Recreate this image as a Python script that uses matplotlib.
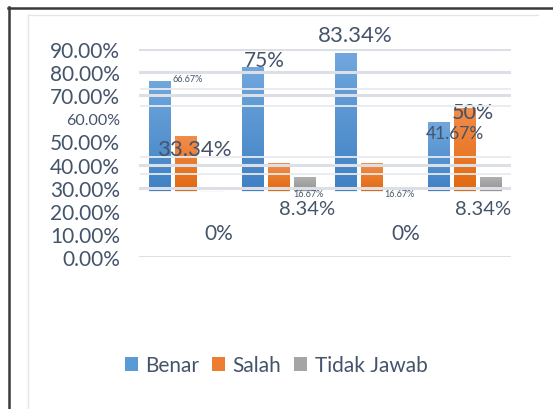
import numpy as np
import matplotlib
matplotlib.use('Agg')
import matplotlib.pyplot as plt
from matplotlib.lines import Line2D
from matplotlib.patches import Patch
from matplotlib.colors import LinearSegmentedColormap

plt.rcParams['font.family'] = ['Lato', 'DejaVu Sans']

# data
groups = ['1', '2', '3', '4']
series = ['Benar', 'Salah', 'Tidak Jawab']
benar = [66.67, 75, 83.34, 41.67]
salah = [33.34, 16.67, 16.67, 50]
tidak = [0, 8.34, 0, 8.34]
tick_values = [0, 10, 20, 30, 40, 50, 60, 70, 80, 90]
grid_values = [0, 30, 40, 70, 80, 90]
faint_values = [36, 43.3, 65.3, 72.6]

# styling / layout
text_col = '#44546A'
grid_col = '#DCE0E6'
faint_col = '#E8EBEF'
colors = [('#71A7DD', '#3F81C4'), ('#F28D4B', '#E2680F'), ('#B0B0B0', '#939393')]
solid = ['#5B9BD5', '#ED7D31', '#A5A5A5']
width = 0.226
step = 0.28
# label offsets (pixels from bar top centre) and font sizes, per series per group
label_offsets = [
    [(28.5, -1.3), (12, 3.9), (9.5, 15.1), (16.2, -14)],
    [(9.2, -16.2), (29.8, -33.3), (28, -33.3), (8.2, -6.7)],
    [(6.8, -45), (2.5, -34.8), (8.5, -45), (-7.8, -34.8)],
]
label_sizes = [
    [6.5, 15, 16, 12.5],
    [16, 6.5, 6.5, 15.5],
    [15, 14.5, 15, 14.5],
]

fig = plt.figure(figsize=(5.53, 4.10), dpi=100)
pos = [139 / 553, 1 - 258 / 410, 372 / 553, 208 / 410]

# axis carrying the tick labels and main gridlines
ax_lab = fig.add_axes(pos)
ax_lab.set_xlim(-0.5, 3.5)
ax_lab.set_ylim(0, 90)
ax_lab.set_yticks(tick_values)
ax_lab.set_yticklabels(['%.2f%%' % v for v in tick_values])
ax_lab.tick_params(axis='y', length=0, pad=13.5, labelsize=15, labelcolor=text_col)
for lbl, v in zip(ax_lab.get_yticklabels(), tick_values):
    if v == 60:
        lbl.set_fontsize(11.5)
ax_lab.set_xticks([])
for s in ax_lab.spines.values():
    s.set_visible(False)
ax_lab.patch.set_visible(False)

# bar axis (own scale: 0 sits on the 30% line)
ax = fig.add_axes(pos, sharex=None)
ax.set_xlim(-0.5, 3.5)
ax.set_ylim(-41.7, 84.0)
ax.axis('off')
ax.patch.set_visible(False)

# faint lines behind bars
for v in faint_values:
    ax_lab.axhline(v, xmin=0.005, color=faint_col, lw=1.3, zorder=0)

x = np.arange(len(groups))
containers = []
for i, vals in enumerate([benar, salah, tidak]):
    bc = ax.bar(x + (i - 1) * step, vals, width, bottom=-1.8, color=solid[i],
                edgecolor='#F4F6F9', linewidth=0.6, zorder=2)
    cmap = LinearSegmentedColormap.from_list('g%d' % i, [colors[i][1], colors[i][0]])
    for p in bc.patches:
        if p.get_height() <= 0:
            continue
        x0, y0 = p.get_x(), p.get_y()
        im = ax.imshow(np.linspace(0, 1, 64).reshape(-1, 1), cmap=cmap, origin='lower',
                       extent=[x0, x0 + p.get_width(), y0, y0 + p.get_height()],
                       aspect='auto', zorder=2.5)
        im.set_clip_path(p)
    containers.append(bc)
    for j, v in enumerate(vals):
        dx, dy = label_offsets[i][j]
        ax.annotate('%g%%' % v, xy=(x[j] + (i - 1) * step, v), xytext=(dx, dy),
                    textcoords='offset pixels', ha='center', va='center',
                    fontsize=label_sizes[i][j], color=text_col, zorder=5)

ax.set_xlim(-0.5, 3.5)
ax.set_ylim(-41.7, 84.0)

# main gridlines drawn over the bars
for v in grid_values:
    ax_lab.axhline(v, color=grid_col, lw=2.2, zorder=4)
ax_lab.set_zorder(ax.get_zorder() + 1)

# legend
handles = [Patch(facecolor=c) for c in solid]
fig.legend(handles, series, loc='center', bbox_to_anchor=(276 / 553, 1 - 366 / 410),
           ncol=3, frameon=False, fontsize=15, labelcolor=text_col,
           handlelength=0.65, handleheight=0.65, handletextpad=0.35, columnspacing=0.6)

# frames
fig.add_artist(Line2D([8 / 553, 1], [1 - 8.5 / 410, 1 - 8.5 / 410], color='#3A3A3A', lw=1.8))
fig.add_artist(Line2D([8.5 / 553, 8.5 / 553], [0, 1 - 8 / 410], color='#3A3A3A', lw=1.8))
fig.add_artist(Line2D([28 / 553, 538 / 553], [1 - 16 / 410, 1 - 16 / 410], color='#E2E6EB', lw=1))
fig.add_artist(Line2D([28 / 553, 28 / 553], [0, 1 - 16 / 410], color='#E2E6EB', lw=1))

fig.savefig('out.png', dpi=100)
